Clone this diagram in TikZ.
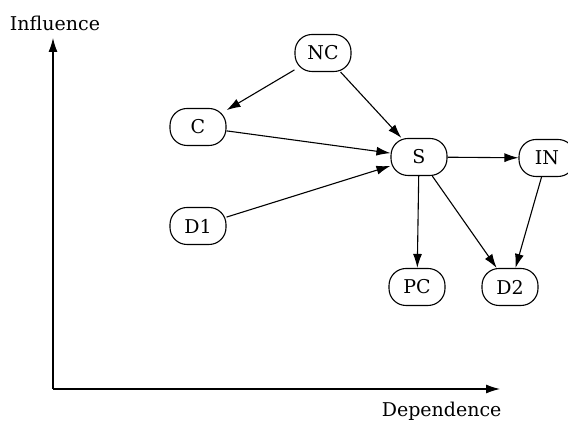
\documentclass[tikz,border=0pt]{standalone}
\usepackage{fontspec}
\setmainfont{DejaVu Serif}
\usepackage{tikz}
\usetikzlibrary{arrows.meta, positioning}
\newcommand{\link}[2]
{
	\draw[-{Latex[length=14pt,width=9pt]}] (#1) -- (#2)
}

\begin{document}
\begin{tikzpicture}[x=1pt, y=1pt,
	line width=1.1pt,
	state/.style={shape=rectangle, draw=black, rounded corners=17pt,
		minimum width=56pt, minimum height=37pt, inner sep=0pt},
	axislabel/.style={inner sep=0pt},
	every node/.append style={font=\fontsize{19}{23}\selectfont}]

	\useasboundingbox (0, 0) rectangle (568, 422);

	% axes
	\coordinate (O) at (53, 33);
	\coordinate (Ytop) at (53, 384);
	\coordinate (Xend) at (500, 33);
	\draw[-{Latex[length=14pt,width=9pt]}] (O) -- (Ytop);
	\draw[-{Latex[length=14pt,width=9pt]}] (O) -- (Xend);
	\node[axislabel] at (55, 399) (Infl){Influence};
	\node[axislabel, anchor=base east] at (502, 5) (Dep){Dependence};

	% states
	\node[state] at (323, 369) (NC){NC};
	\node[state] at (198, 295) (C){C};
	\node[state] at (419, 265) (S){S};
	\node[state] at (547, 264) (IN){IN};
	\node[state] at (198, 196) (D1){D1};
	\node[state] at (417, 135) (PC){PC};
	\node[state] at (510, 135) (D2){D2};

	\link{NC}{C};
	\link{NC}{S};
	\link{C}{S};
	\link{D1}{S};
	\link{S}{IN};
	\link{S}{PC};
	\link{S}{D2};
	\link{IN}{D2};
\end{tikzpicture}
\end{document}
